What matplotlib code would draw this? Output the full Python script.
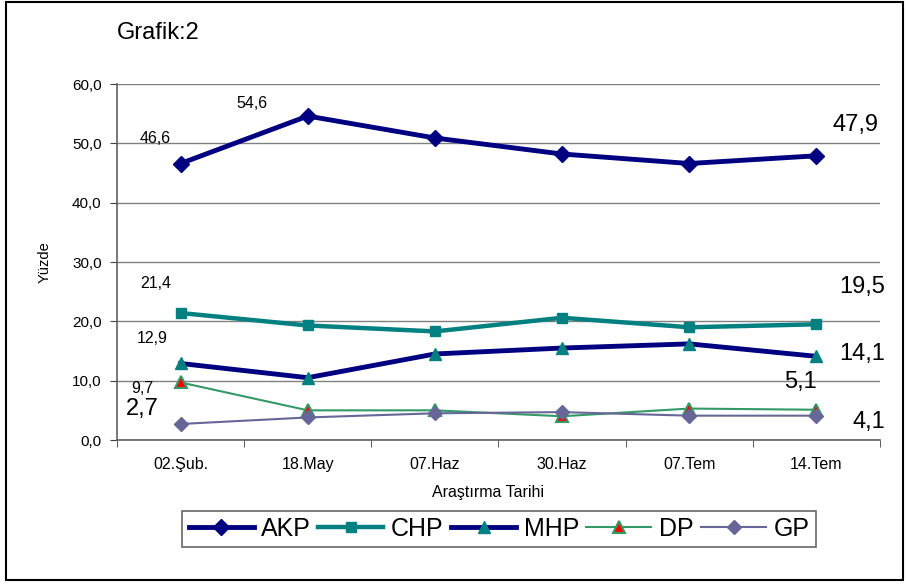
import matplotlib.pyplot as plt
import matplotlib.patches as mpatches
import numpy as np

plt.rcParams['font.family'] = ['Liberation Sans', 'DejaVu Sans']

# veriler
tarihler = ['02.Şub.', '18.May', '07.Haz', '30.Haz', '07.Tem', '14.Tem']
akp = [46.6, 54.6, 50.9, 48.2, 46.6, 47.9]
chp = [21.4, 19.3, 18.3, 20.6, 19.0, 19.5]
mhp = [12.9, 10.5, 14.5, 15.5, 16.2, 14.1]
dp = [9.7, 5.0, 5.0, 4.0, 5.3, 5.1]
gp = [2.7, 3.8, 4.5, 4.7, 4.1, 4.1]

fig = plt.figure(figsize=(9.07, 5.86), dpi=100)
ax = fig.add_axes([117 / 907, 1 - 440 / 586, 763 / 907, 356 / 586])

x = np.arange(len(tarihler))

ax.plot(x, akp, color='#000080', lw=3.5, marker='D', ms=8, mfc='#000080', mec='#000080', label='AKP', zorder=5)
ax.plot(x, chp, color='#008080', lw=3.2, marker='s', ms=7, mfc='#008080', mec='#008080', label='CHP', zorder=4)
ax.plot(x, mhp, color='#000080', lw=3.5, marker='^', ms=9, mfc='#008080', mec='#008080', label='MHP', zorder=4)
ax.plot(x, dp, color='#339966', lw=1.5, marker='^', ms=8, mfc='#ff0000', mec='#339966', mew=1.5, label='DP', zorder=3)
ax.plot(x, gp, color='#666699', lw=1.5, marker='D', ms=7, mfc='#666699', mec='#666699', label='GP', zorder=3)

# değer etiketleri: (seri, indeks, kaydırma px, yazı boyu)
seriler = {'akp': akp, 'chp': chp, 'mhp': mhp, 'dp': dp, 'gp': gp}
etiketler = [
    ('akp', 0, (-25, 25), 11.5), ('akp', 1, (-56, 13), 11.5), ('akp', 5, (39, 31), 17),
    ('chp', 0, (-25, 30), 11.5), ('chp', 5, (46, 37), 17),
    ('mhp', 0, (-28, 25), 11.5), ('mhp', 5, (46, 2), 17),
    ('dp', 0, (-38, -6), 11.5), ('dp', 5, (-16, 28), 17),
    ('gp', 0, (-38, 15), 17), ('gp', 5, (52, -6), 17),
]
for ad, i, off, fs in etiketler:
    v = seriler[ad][i]
    ax.annotate(f'{v:.1f}'.replace('.', ','), xy=(i, v), xytext=off,
                textcoords='offset pixels', ha='center', va='center', fontsize=fs)

ax.set_ylim(0, 60)
ax.set_xlim(-0.5, 5.5)
ax.set_yticks(np.arange(0, 61, 10))
ax.set_yticklabels([f'{t:.1f}'.replace('.', ',') for t in np.arange(0, 61, 10)], fontsize=11)
ax.set_xticks(x)
ax.set_xticklabels(tarihler, fontsize=11.5)
ax.set_xticks(np.arange(-0.5, 6, 1), minor=True)
ax.tick_params(axis='x', which='major', length=0, pad=12)
ax.tick_params(axis='x', which='minor', length=5, color='#404040')
ax.tick_params(axis='y', length=5, color='#404040', pad=6)
ax.grid(axis='y', color='#808080', lw=1)
ax.set_axisbelow(True)
for s in ['top', 'right']:
    ax.spines[s].set_visible(False)
for s in ['left', 'bottom']:
    ax.spines[s].set_color('#606060')
    ax.spines[s].set_linewidth(1.2)

ax.set_ylabel('Yüzde', fontsize=10.5)
ax.yaxis.set_label_coords((45 - 117) / 763, 0.5)
ax.set_xlabel('Araştırma Tarihi', fontsize=11.5)
ax.xaxis.set_label_coords((488 - 117) / 763, (440 - 492) / 356)
ax.xaxis.label.set_va('center')
ax.yaxis.label.set_va('center')

fig.text(117 / 907, 1 - 33 / 586, 'Grafik:2', fontsize=17, va='center', ha='left')

leg = fig.legend(ncol=5, loc='center', bbox_to_anchor=(499 / 907, 1 - 529 / 586),
                 fontsize=18, frameon=True, fancybox=False, handlelength=2.6,
                 handletextpad=0.3, columnspacing=0.3, borderpad=0.25, borderaxespad=0)
leg.get_frame().set_edgecolor('#404040')
leg.get_frame().set_linewidth(1.2)

# dış çerçeve
fig.patches.append(mpatches.Rectangle((6 / 907, 1 - 580 / 586), 897 / 907, 578 / 586,
                                      transform=fig.transFigure, fill=False, ec='black', lw=1.5))

fig.savefig('out.png', dpi=100)
